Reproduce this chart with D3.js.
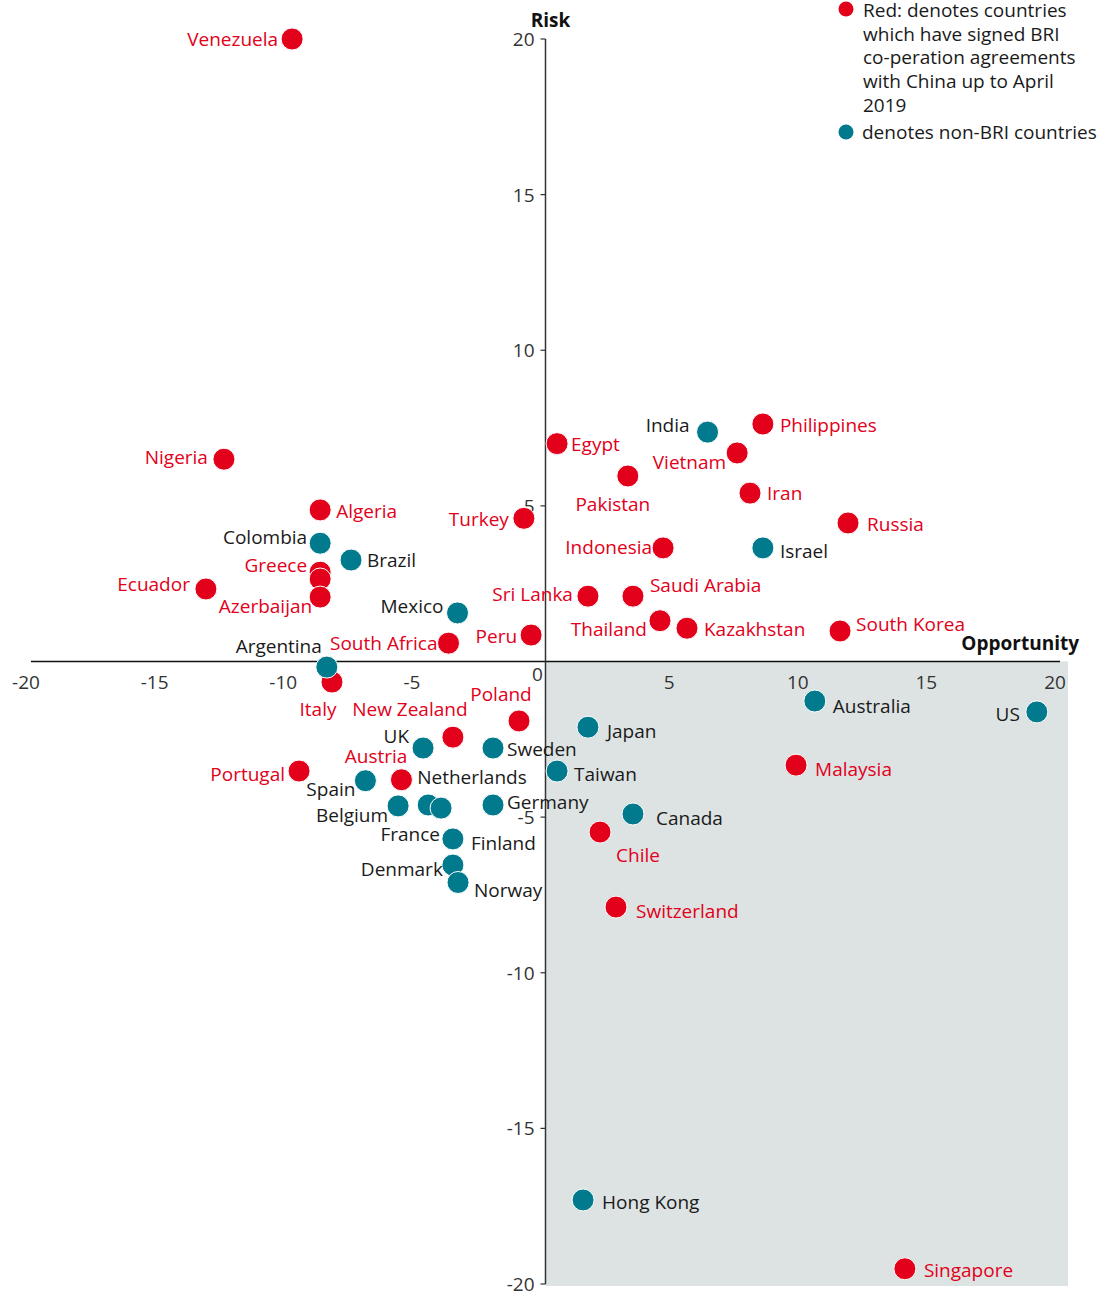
<!DOCTYPE html>
<html>
<head>
<meta charset="utf-8">
<script src="https://cdn.jsdelivr.net/npm/d3@7"></script>
<style>
  html, body { margin: 0; padding: 0; background: #fff; }
  svg { display: block; font-family: "Open Sans", "Noto Sans", sans-serif; }
</style>
</head>
<body>
<svg id="chart" width="1120" height="1296"></svg>
<script>
// ---- Data ----
const countries = ["Venezuela","Nigeria","Algeria","Colombia","Brazil","Greece","","Ecuador","Azerbaijan","Mexico",
  "Italy","Argentina","South Africa","Peru","Turkey","Egypt","India","Philippines","Vietnam","Pakistan","Iran","Russia",
  "Israel","Indonesia","Saudi Arabia","Sri Lanka","Thailand","Kazakhstan","South Korea","Poland","New Zealand","UK",
  "Sweden","Austria","Portugal","Spain","Belgium","Netherlands","France","Germany","Finland","Denmark","Norway",
  "Japan","Taiwan","Canada","Chile","Switzerland","Malaysia","Australia","US","Hong Kong","Singapore"];
const opportunity = [-9.85,-12.5,-8.76,-8.76,-7.56,-8.76,-8.76,-13.2,-8.76,-3.42,
  -8.3,-8.5,-3.77,-0.56,-0.84,0.45,6.3,8.45,7.45,3.2,7.95,11.76,
  8.45,4.57,3.4,1.65,4.45,5.5,11.45,-1.03,-3.6,-4.76,
  -2.04,-5.6,-9.58,-7.0,-5.73,-4.56,-4.06,-2.04,-3.6,-3.6,-3.4,
  1.65,0.45,3.4,2.12,2.74,9.74,10.47,19.1,1.46,13.97];
const risk = [20.0,6.5,4.87,3.8,3.26,2.87,2.65,2.33,2.07,1.56,
  -0.66,-0.18,0.59,0.85,4.6,7.0,7.37,7.63,6.7,5.96,5.41,4.45,
  3.65,3.65,2.1,2.1,1.31,1.07,0.98,-1.91,-2.43,-2.78,
  -2.78,-3.8,-3.52,-3.83,-4.64,-4.61,-4.71,-4.61,-5.7,-6.54,-7.1,
  -2.11,-3.52,-4.9,-5.48,-7.89,-3.33,-1.27,-1.62,-17.3,-19.51];
// 1 = signed BRI co-operation agreement (red), 0 = non-BRI (teal)
const bri = [1,1,1,0,0,1,1,1,1,0,
  1,0,1,1,1,1,0,1,1,1,1,1,
  0,1,1,1,1,1,1,1,1,0,
  0,1,1,0,0,0,0,0,0,0,0,
  0,0,0,1,1,1,0,0,0,1];
const xTicks = [-20,-15,-10,-5,0,5,10,15,20];
const yTicks = [-20,-15,-10,-5,5,10,15,20];
const legendLines = ["Red: denotes countries","which have signed BRI","co-peration agreements","with China up to April","2019"];
const legendTeal = "denotes non-BRI countries";

// label placement: [anchor, dx, dy] relative to dot centre
const labelPlacement = [["end",-14,0],["end",-16,-2],["start",16,1],["end",-13,-6],["start",16,0],["end",-13,-7],["start",0,0],["end",-16,-5],["end",-8,9],["end",-14,-7],
  ["middle",-14,27],["end",-5,-21],["end",-11,0],["end",-14,1],["end",-15,1],["start",14,0],["end",-18,-7],["start",17,1],["end",-11,9],["middle",-15,28],["start",17,0],["start",19,1],
  ["start",17,3],["end",-11,-1],["start",17,-11],["end",-15,-2],["end",-13,8],["start",17,1],["start",16,-7],["middle",-18,-27],["middle",-43,-28],["end",-14,-12],
  ["start",14,1],["end",6,-24],["end",-14,3],["end",-10,8],["end",-10,9],["start",-11,-28],["end",-1,26],["start",14,-3],["start",18,4],["end",-10,4],["start",16,8],
  ["start",19,4],["start",17,3],["start",23,4],["start",16,23],["start",20,4],["start",19,4],["start",18,5],["end",-17,2],["start",19,2],["start",19,1]];

// ---- Drawing ----
const RED = "#e2001a", TEAL = "#007a8c", INK = "#1a1a1a", AXIS = "#333";
const svg = d3.select("#chart");
const x = d3.scaleLinear().domain([-20, 20]).range([31, 1060]);
const y = d3.scaleLinear().domain([-20, 20]).range([1284, 39]);

// shaded quadrant (opportunity > 0, risk < 0)
svg.append("rect")
  .attr("x", x(0)).attr("y", y(0))
  .attr("width", x(20) + 8 - x(0)).attr("height", y(-20) + 2 - y(0))
  .attr("fill", "#dde3e3");

// x axis line
svg.append("line").attr("x1", x(-20)).attr("x2", x(20)).attr("y1", y(0)).attr("y2", y(0))
  .attr("stroke", "#111").attr("stroke-width", 1.5);
// y axis line
svg.append("line").attr("x1", x(0)).attr("x2", x(0)).attr("y1", y(20)).attr("y2", y(-20))
  .attr("stroke", AXIS).attr("stroke-width", 1.5);

// y ticks
const yt = svg.append("g");
yt.selectAll("line").data(yTicks).join("line")
  .attr("x1", x(0) - 5).attr("x2", x(0)).attr("y1", d => y(d)).attr("y2", d => y(d))
  .attr("stroke", AXIS).attr("stroke-width", 1.2);
yt.selectAll("text").data(yTicks).join("text")
  .attr("x", x(0) - 11).attr("y", d => y(d) + 7)
  .attr("text-anchor", "end").attr("font-size", 19).attr("fill", AXIS)
  .text(d => d);

// x tick labels
svg.append("g").selectAll("text").data(xTicks).join("text")
  .attr("x", d => d === 0 ? x(0) - 8 : x(d) - 5)
  .attr("y", d => d === 0 ? y(0) + 19 : y(0) + 27)
  .attr("text-anchor", "middle").attr("font-size", 19).attr("fill", AXIS)
  .text(d => d);

// axis titles
svg.append("text").attr("x", x(0) + 5).attr("y", 27).attr("text-anchor", "middle")
  .attr("font-size", 19).attr("font-weight", 700).attr("fill", "#111").text("Risk");
svg.append("text").attr("x", 1079).attr("y", 650).attr("text-anchor", "end")
  .attr("font-size", 19).attr("font-weight", 700).attr("fill", "#111").text("Opportunity");

// data
const data = countries.map((c, i) => ({
  name: c, ox: opportunity[i], ry: risk[i], bri: bri[i],
  anchor: labelPlacement[i][0], dx: labelPlacement[i][1], dy: labelPlacement[i][2]
}));

svg.append("g").selectAll("circle").data(data).join("circle")
  .attr("cx", d => x(d.ox)).attr("cy", d => y(d.ry)).attr("r", 11)
  .attr("fill", d => d.bri ? RED : TEAL)
  .attr("stroke", "#fff").attr("stroke-width", 1);

svg.append("g").selectAll("text").data(data.filter(d => d.name)).join("text")
  .attr("x", d => x(d.ox) + d.dx).attr("y", d => y(d.ry) + d.dy + 7)
  .attr("text-anchor", d => d.anchor).attr("font-size", 19)
  .attr("fill", d => d.bri ? RED : INK)
  .text(d => d.name);

// legend
const lg = svg.append("g");
lg.append("circle").attr("cx", 846).attr("cy", 9).attr("r", 7.5).attr("fill", RED);
lg.selectAll("text.l").data(legendLines).join("text").attr("class", "l")
  .attr("x", 863).attr("y", (d, i) => 17 + i * 23.7)
  .attr("font-size", 19).attr("fill", INK).text(d => d);
lg.append("circle").attr("cx", 846).attr("cy", 132).attr("r", 7.5).attr("fill", TEAL);
lg.append("text").attr("x", 862).attr("y", 139).attr("font-size", 19).attr("fill", INK).text(legendTeal);
</script>
</body>
</html>
